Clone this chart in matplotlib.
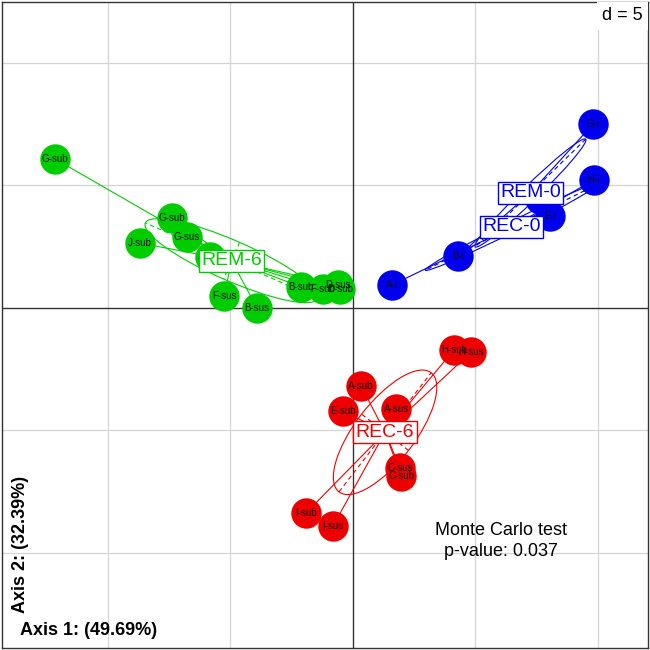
import numpy as np
import matplotlib.pyplot as plt
from matplotlib.patches import Ellipse

plt.rcParams['font.family'] = ['Liberation Sans', 'DejaVu Sans']

# sample scores on axes 1 and 2, one set per class
rem6_labels = ['G-sub', 'G-sub', 'G-sus', 'J-sub', 'J-sus', 'F-sus', 'B-sus', 'B-sub', 'F-sub', 'D-sus', 'D-sub']
rem6_x = [-12.14, -7.37, -6.76, -8.67, -5.82, -5.24, -3.90, -2.10, -1.20, -0.59, -0.51]
rem6_y = [6.08, 3.67, 2.90, 2.65, 2.08, 0.49, 0.00, 0.86, 0.78, 0.94, 0.78]

rec6_labels = ['H-sub', 'H-sus', 'A-sub', 'E-sub', 'A-sus', 'C-sus', 'C-sub', 'I-sub', 'I-sus']
rec6_x = [4.14, 4.84, 0.35, -0.39, 1.78, 1.94, 1.98, -1.90, -0.80]
rec6_y = [-1.71, -1.80, -3.18, -4.20, -4.12, -6.53, -6.86, -8.37, -8.90]

rem0_labels = ['G-i', 'F-i', 'B-i']
rem0_x = [9.82, 7.65, 4.31]
rem0_y = [7.51, 4.45, 2.12]

rec0_labels = ['H-i', 'E-i', 'A-i']
rec0_x = [9.84, 8.06, 1.61]
rec0_y = [5.22, 3.76, 0.94]

classes = ['REC-0', 'REM-0', 'REC-6', 'REM-6']
class_colors = ['#0000EE', '#0000EE', '#EE0000', '#00CD00']

axis1_label = 'Axis 1: (49.69%)'
axis2_label = 'Axis 2: (32.39%)'
mc_text = 'Monte Carlo test\np-value: 0.037'

groups = {
    'REC-0': (rec0_labels, rec0_x, rec0_y),
    'REM-0': (rem0_labels, rem0_x, rem0_y),
    'REC-6': (rec6_labels, rec6_x, rec6_y),
    'REM-6': (rem6_labels, rem6_x, rem6_y),
}


def drawClass(ax, x, y, col, cellipse=1.0):
    x = np.asarray(x)
    y = np.asarray(y)
    cx, cy = x.mean(), y.mean()
    # stars
    for xi, yi in zip(x, y):
        ax.plot([cx, xi], [cy, yi], color=col, lw=0.8, zorder=2)
    # ellipse + its axes
    cov = np.cov(np.vstack([x, y]), bias=True)
    vals, vecs = np.linalg.eigh(cov)
    order = vals.argsort()[::-1]
    vals = vals[order]
    vecs = vecs[:, order]
    angle = np.degrees(np.arctan2(vecs[1, 0], vecs[0, 0]))
    w = 2 * cellipse * np.sqrt(vals[0])
    h = 2 * cellipse * np.sqrt(max(vals[1], 0))
    ax.add_patch(Ellipse((cx, cy), w, h, angle=angle, fill=False, ec=col, lw=0.8, zorder=2))
    for k in range(2):
        d = cellipse * np.sqrt(max(vals[k], 0)) * vecs[:, k]
        ax.plot([cx - d[0], cx + d[0]], [cy - d[1], cy + d[1]], color=col, lw=0.8,
                ls=(0, (4, 3)), zorder=2)
    return cx, cy


fig = plt.figure(figsize=(6.5, 6.5), dpi=100)
ax = fig.add_axes([0.003, 0.003, 0.994, 0.994])
ax.set_xlim(-14.31, 12.06)
ax.set_ylim(-13.88, 12.49)
ax.set_xticks([])
ax.set_yticks([])
for s in ax.spines.values():
    s.set_color('#333333')
    s.set_linewidth(1.0)

# grid, d = 5
for v in [-10, -5, 5, 10]:
    ax.axvline(v, color='#d4d4d4', lw=0.9, zorder=0)
    ax.axhline(v, color='#d4d4d4', lw=0.9, zorder=0)
ax.axvline(0, color='#333333', lw=1.0, zorder=1)
ax.axhline(0, color='#333333', lw=1.0, zorder=1)

centers = {}
for name, col in zip(classes, class_colors):
    labs, xs, ys = groups[name]
    centers[name] = drawClass(ax, xs, ys, col)

for name, col in zip(classes, class_colors):
    labs, xs, ys = groups[name]
    ax.scatter(xs, ys, s=480, color=col, linewidths=0, zorder=3)
for name, col in zip(classes, class_colors):
    labs, xs, ys = groups[name]
    for lab, xi, yi in zip(labs, xs, ys):
        ax.text(xi, yi, lab, fontsize=7, color='#111111', ha='center', va='center', zorder=4)

for name, col in zip(classes, class_colors):
    cx, cy = centers[name]
    ax.text(cx, cy, name, fontsize=14, color=col, ha='center', va='center', zorder=5,
            bbox=dict(boxstyle='square,pad=0.12', fc='white', ec=col, lw=1.0))

ax.text(0.992, 0.992, 'd = 5', transform=ax.transAxes, ha='right', va='top', fontsize=13,
        zorder=6, bbox=dict(boxstyle='square,pad=0.3', fc='white', ec='none'))

ax.text(0.773, 0.166, mc_text, transform=ax.transAxes, ha='center', va='center',
        fontsize=13, linespacing=1.35, zorder=6)
ax.text(0.028, 0.027, axis1_label, transform=ax.transAxes, ha='left', va='center',
        fontsize=13, fontweight='bold', zorder=6)
ax.text(0.028, 0.16, axis2_label, transform=ax.transAxes, ha='center', va='center',
        rotation=90, fontsize=13, fontweight='bold', zorder=6)

plt.savefig('out.png', dpi=100)
